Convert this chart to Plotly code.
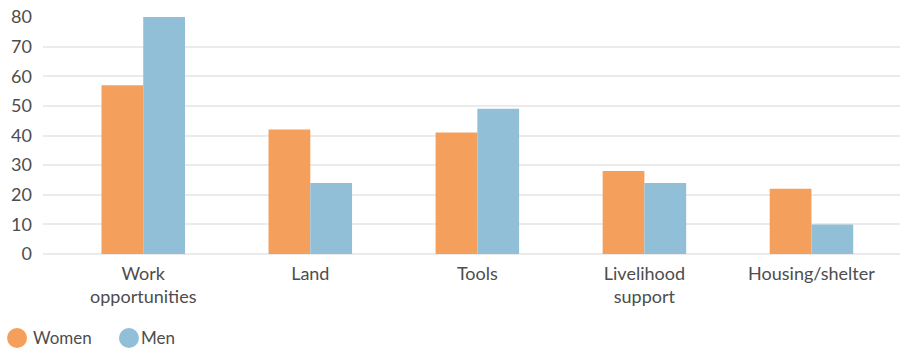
import plotly.graph_objects as go

categories = ["Work<br>opportunities", "Land", "Tools", "Livelihood<br>support", "Housing/shelter"]
women = [57, 42, 41, 28, 22]
men = [80, 24, 49, 24, 10]
tick_vals = [0, 10, 20, 30, 40, 50, 60, 70, 80]
series_names = ["Women", "Men"]

ORANGE = "#F4A05C"
BLUE = "#92BFD8"
TEXT = "#4d4d4d"
FONT = "Lato, 'Open Sans', sans-serif"

fig = go.Figure()
fig.add_trace(go.Bar(name=series_names[0], x=categories, y=women,
                     marker=dict(color=ORANGE, line=dict(width=0)), showlegend=False))
fig.add_trace(go.Bar(name=series_names[1], x=categories, y=men,
                     marker=dict(color=BLUE, line=dict(width=0)), showlegend=False))

# custom legend (round swatches) placed below the plot
legend_items = [(series_names[0], ORANGE, -0.0303, -0.0140),
                (series_names[1], BLUE, 0.1003, 0.1120)]
legend_y = -0.3544
for name, color, cx, tx in legend_items:
    fig.add_shape(type="circle", xref="paper", yref="paper",
                  xsizemode="pixel", ysizemode="pixel",
                  xanchor=cx, yanchor=legend_y, x0=-10, x1=10, y0=-10, y1=10,
                  fillcolor=color, line=dict(width=0))
    fig.add_annotation(text=name, xref="paper", yref="paper", x=tx, y=legend_y,
                       xanchor="left", yanchor="middle", showarrow=False,
                       font=dict(size=17, color=TEXT))

fig.update_layout(
    width=902, height=349,
    margin=dict(l=43, r=2, t=17, b=95),
    paper_bgcolor="white", plot_bgcolor="white",
    barmode="group", bargap=0.5, bargroupgap=0,
    showlegend=False,
    font=dict(family=FONT, size=17, color=TEXT),
    xaxis=dict(type="category", range=[-0.6, 4.53], showgrid=False, showline=False,
               ticks="", tickfont=dict(size=18, color=TEXT), ticklabelstandoff=7,
               automargin=False),
    yaxis=dict(range=[0, 80], tickvals=tick_vals, showgrid=True, gridcolor="#ebebeb",
               gridwidth=2, zeroline=True, zerolinecolor="#ebebeb", zerolinewidth=2,
               showline=False, ticks="", tickfont=dict(size=18, color=TEXT),
               ticklabelstandoff=10, automargin=False),
)

fig.write_html("out.html", config={"displayModeBar": False},
               post_script="document.body.style.margin='0';document.body.style.overflow='hidden';")
